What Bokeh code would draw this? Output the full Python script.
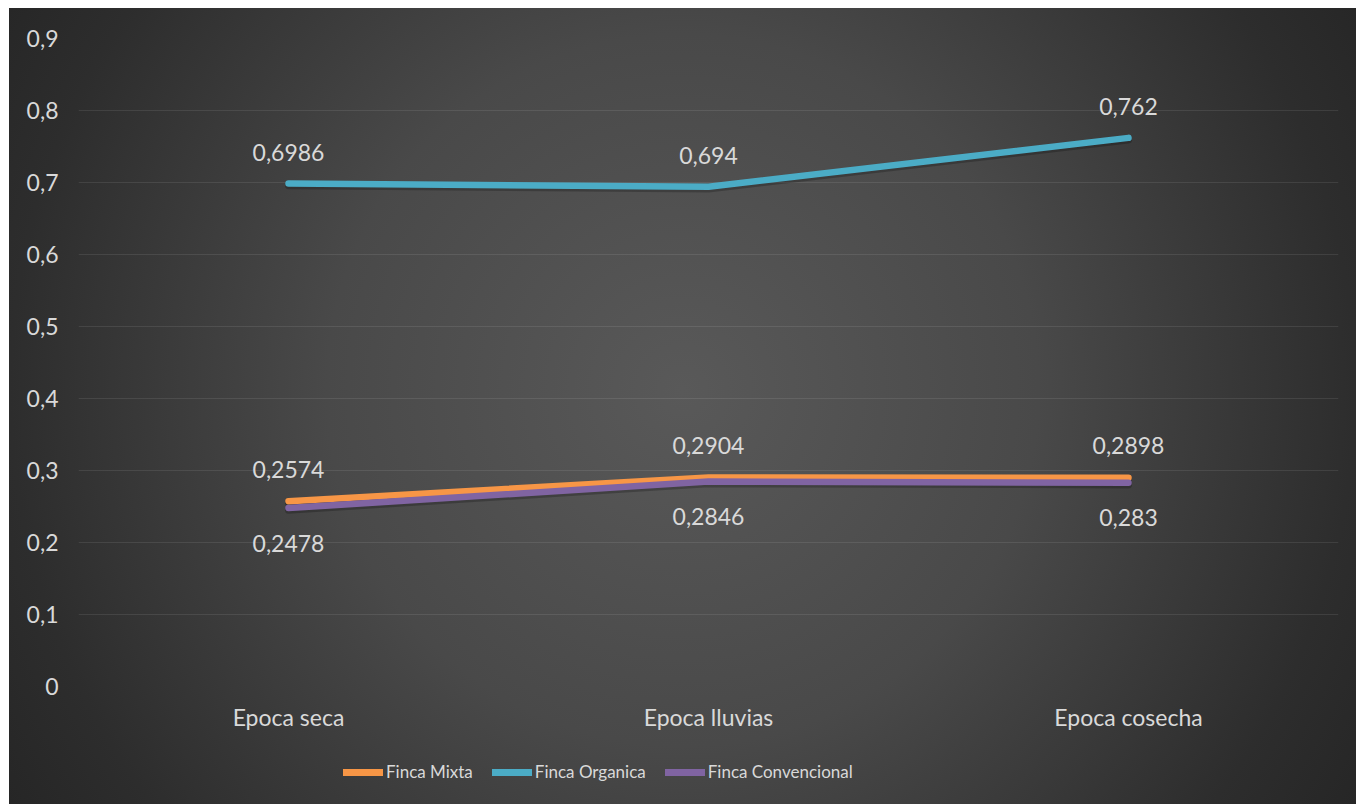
from bokeh.plotting import figure
from bokeh.layouts import column
from bokeh.models import ColumnDataSource, FactorRange, Range1d, FixedTicker, Legend, LegendItem
from bokeh.core.properties import value
from bokeh.embed import file_html
from bokeh.resources import INLINE

# --- data -------------------------------------------------------------
seasons = ["Epoca seca", "Epoca lluvias", "Epoca cosecha"]
finca_mixta = [0.2574, 0.2904, 0.2898]
finca_organica = [0.6986, 0.694, 0.762]
finca_convencional = [0.2478, 0.2846, 0.283]
series_names = ["Finca Mixta", "Finca Organica", "Finca Convencional"]
y_ticks = [0, 0.1, 0.2, 0.3, 0.4, 0.5, 0.6, 0.7, 0.8, 0.9]
y_tick_labels = ["0", "0,1", "0,2", "0,3", "0,4", "0,5", "0,6", "0,7", "0,8", "0,9"]

# --- style ------------------------------------------------------------
FONT = "Lato"
TEXT = "#d9d9d9"
COLORS = ["#F79646", "#4BACC6", "#8064A2"]
LABEL_OFFSETS = [-32, -31, 35]   # px: above, above, below the point
WIDTH = 1347

p = figure(
    x_range=FactorRange(factors=seasons),
    y_range=Range1d(0, 0.9),
    width=WIDTH, height=740,
    output_backend="svg", toolbar_location=None,
    min_border_left=69, min_border_right=18,
    min_border_top=30, min_border_bottom=62,
    border_fill_color=None, background_fill_color=None,
    outline_line_color=None,
)

# grid and axes
p.xgrid.grid_line_color = None
p.ygrid.grid_line_color = "white"
p.ygrid.grid_line_alpha = 0.09
p.ygrid.grid_line_width = 1

p.yaxis.ticker = FixedTicker(ticks=y_ticks)
p.yaxis.major_label_overrides = dict(zip(y_ticks, y_tick_labels))
for ax in (p.xaxis[0], p.yaxis[0]):
    ax.axis_line_color = None
    ax.major_tick_line_color = None
    ax.minor_tick_line_color = None
    ax.major_tick_out = 0
    ax.major_label_text_font = FONT
    ax.major_label_text_font_size = "23px"
    ax.major_label_text_color = TEXT
p.yaxis.major_label_standoff = 20
p.xaxis.major_label_standoff = 16

# series
for vals, color, off in zip([finca_mixta, finca_organica, finca_convencional],
                            COLORS, LABEL_OFFSETS):
    src = ColumnDataSource(dict(
        x=seasons, y=vals,
        shadow=[v - 0.003 for v in vals],
        label=[str(v).replace(".", ",") for v in vals],
    ))
    p.line("x", "shadow", source=src, line_color="black", line_alpha=0.22,
           line_width=7, line_cap="round", line_join="round")
    p.line("x", "y", source=src, line_color=color, line_width=6.5,
           line_cap="round", line_join="round")
    p.text("x", "y", text="label", source=src, y_offset=off,
           text_align="center", text_baseline="middle",
           text_font=value(FONT), text_font_size="23px", text_color=TEXT)

# legend strip underneath the chart (proxy lines sit outside its visible range)
lg = figure(
    width=WIDTH, height=56, x_range=Range1d(0, 1), y_range=Range1d(0, 1),
    output_backend="svg", toolbar_location=None,
    min_border=0, border_fill_color=None, background_fill_color=None,
    outline_line_color=None,
)
lg.axis.visible = False
lg.grid.visible = False
items = []
for name, color in zip(series_names, COLORS):
    r = lg.line(x=[0, 1], y=[5, 5], line_color=color, line_width=7, line_cap="round")
    items.append(LegendItem(label=name, renderers=[r]))
legend = Legend(
    items=items, orientation="horizontal", location=(265, 22),
    background_fill_alpha=0, border_line_color=None,
    label_text_font=FONT, label_text_font_size="17px", label_text_color=TEXT,
    glyph_width=40, label_standoff=3, spacing=19, padding=0, margin=0,
)
lg.add_layout(legend, "center")

layout = column(p, lg, spacing=0, width=WIDTH, height=796)
layout.margin = (8, 0, 0, 9)
layout.styles = {
    "background": "radial-gradient(circle at 50% 48%, #595959 0%, #494949 45%, "
                  "#2d2d2d 85%, #262626 100%)",
}

open("out.html", "w").write(file_html(layout, INLINE))
